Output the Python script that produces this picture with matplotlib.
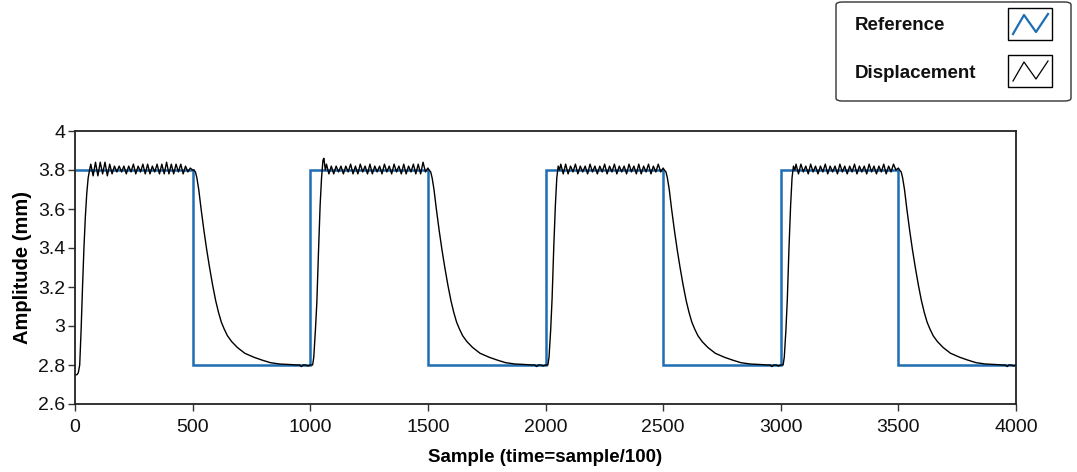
import numpy as np
import matplotlib
matplotlib.use("Agg")
import matplotlib.pyplot as plt
from matplotlib.patches import FancyBboxPatch, Rectangle
from matplotlib.lines import Line2D

plt.rcParams['font.family'] = ['Liberation Sans', 'DejaVu Sans']

# ---------------- data ----------------
ref_edges = [0, 500, 1000, 1500, 2000, 2500, 3000, 3500, 4000]
ref_levels = [3.8, 2.8, 3.8, 2.8, 3.8, 2.8, 3.8, 2.8]

# cycle 1 (0-1000)
c1_rise_x = [0, 8, 14, 20, 26, 32, 38, 44, 50, 56, 62]
c1_rise_y = [2.75, 2.75, 2.76, 2.80, 2.98, 3.20, 3.40, 3.56, 3.68, 3.76, 3.80]
c1_ripple = [3.83, 3.77, 3.84, 3.77, 3.84, 3.78, 3.84, 3.77, 3.83, 3.78, 3.82,
             3.79, 3.82, 3.79, 3.82, 3.78, 3.82, 3.79, 3.83, 3.78, 3.82, 3.79,
             3.83, 3.78, 3.83, 3.78, 3.82, 3.79, 3.83, 3.78, 3.83, 3.78, 3.84,
             3.78, 3.83, 3.78, 3.83, 3.79, 3.83, 3.78, 3.82, 3.79, 3.81, 3.80]
# cycle 2 (1000-2000)
c2_rise_x = [1000, 1010, 1015, 1022, 1028, 1035, 1042, 1048, 1054, 1058, 1064]
c2_rise_y = [2.80, 2.80, 2.84, 2.98, 3.12, 3.38, 3.62, 3.76, 3.85, 3.86, 3.80]
c2_ripple = [3.83, 3.78, 3.82, 3.78, 3.82, 3.79, 3.82, 3.78, 3.82, 3.79, 3.83,
             3.78, 3.82, 3.78, 3.83, 3.79, 3.82, 3.78, 3.83, 3.78, 3.82, 3.79,
             3.82, 3.78, 3.83, 3.79, 3.82, 3.78, 3.83, 3.79, 3.82, 3.78, 3.83,
             3.78, 3.82, 3.79, 3.83, 3.78, 3.83, 3.78, 3.84, 3.79, 3.81]
# cycle 3 (2000-3000)
c3_rise_x = [2000, 2010, 2015, 2022, 2028, 2035, 2042, 2048, 2054, 2060]
c3_rise_y = [2.80, 2.80, 2.84, 2.98, 3.14, 3.40, 3.62, 3.76, 3.82, 3.80]
c3_ripple = [3.83, 3.78, 3.83, 3.78, 3.82, 3.79, 3.83, 3.78, 3.82, 3.79, 3.82,
             3.78, 3.83, 3.79, 3.82, 3.78, 3.82, 3.79, 3.83, 3.78, 3.82, 3.79,
             3.83, 3.78, 3.82, 3.79, 3.82, 3.78, 3.83, 3.79, 3.82, 3.78, 3.83,
             3.78, 3.82, 3.79, 3.83, 3.78, 3.82, 3.79, 3.83, 3.79, 3.81]
# cycle 4 (3000-4000)
c4_rise_x = [3000, 3010, 3015, 3022, 3028, 3035, 3042, 3048, 3054, 3060]
c4_rise_y = [2.80, 2.80, 2.84, 2.98, 3.14, 3.40, 3.62, 3.76, 3.82, 3.80]
c4_ripple = [3.83, 3.78, 3.83, 3.79, 3.82, 3.78, 3.83, 3.79, 3.82, 3.78, 3.82,
             3.79, 3.83, 3.78, 3.82, 3.79, 3.82, 3.78, 3.83, 3.79, 3.82, 3.78,
             3.82, 3.79, 3.83, 3.78, 3.82, 3.79, 3.82, 3.78, 3.83, 3.79, 3.82,
             3.78, 3.82, 3.79, 3.83, 3.78, 3.82, 3.79, 3.83, 3.80, 3.81]

# decay after each falling edge (offset from the falling edge)
decay_dx = [5, 12, 18, 26, 36, 48, 60, 72, 85, 98, 110, 122, 134, 148, 166,
            190, 222, 260, 293, 330, 370, 420]
decay_y = [3.80, 3.79, 3.76, 3.70, 3.60, 3.49, 3.39, 3.30, 3.21, 3.13,
           3.07, 3.02, 2.985, 2.95, 2.92, 2.89, 2.86, 2.84, 2.826, 2.812,
           2.805, 2.802]
# low floor (offset from the falling edge) with small dips
floor_dx = [440, 455, 462, 470, 480, 490, 500]
floor_y = [2.800, 2.800, 2.792, 2.800, 2.800, 2.795, 2.800]

rise_x = [c1_rise_x, c2_rise_x, c3_rise_x, c4_rise_x]
rise_y = [c1_rise_y, c2_rise_y, c3_rise_y, c4_rise_y]
ripples = [c1_ripple, c2_ripple, c3_ripple, c4_ripple]
fall_edges = [500, 1500, 2500, 3500]

disp_x, disp_y = [], []
for rx, ry, rp, fe in zip(rise_x, rise_y, ripples, fall_edges):
    disp_x += rx
    disp_y += ry
    xs = np.linspace(rx[-1] + 5, fe, len(rp))
    disp_x += list(xs)
    disp_y += rp
    disp_x += [fe + d for d in decay_dx]
    disp_y += decay_y
    disp_x += [fe + d for d in floor_dx]
    disp_y += floor_y

# ---------------- figure ----------------
W, H = 1077, 472
fig = plt.figure(figsize=(W / 100, H / 100), dpi=100)
ax = fig.add_axes([75 / W, 1 - 404 / H, (1016 - 75) / W, (404 - 131) / H])

blue = '#1f6db3'
ax.stairs(ref_levels, ref_edges, color=blue, lw=1.8, baseline=None)
ax.plot(disp_x, disp_y, color='black', lw=1.0)

ax.set_xlim(0, 4000)
ax.set_ylim(2.6, 4.0)
ax.set_xticks([0, 500, 1000, 1500, 2000, 2500, 3000, 3500, 4000])
ax.set_yticks([2.6, 2.8, 3.0, 3.2, 3.4, 3.6, 3.8, 4.0])
ax.set_yticklabels(['2.6', '2.8', '3', '3.2', '3.4', '3.6', '3.8', '4'])
ax.tick_params(axis='both', labelsize=14, direction='out', length=5,
               width=1, color='#333333', labelcolor='#111111')
ax.tick_params(axis='x', pad=6)
ax.tick_params(axis='y', pad=2)
for s in ax.spines.values():
    s.set_linewidth(1.3)
    s.set_color('#222222')

ax.set_xlabel('Sample (time=sample/100)', fontsize=13.5, fontweight='bold',
              labelpad=9)
ax.set_ylabel('Amplitude (mm)', fontsize=14.5, fontweight='bold', labelpad=4)

# ---------------- legend (custom, upper right) ----------------
def fx(px):
    return px / W

def fy(py):
    return 1 - py / H

box = FancyBboxPatch((fx(836), fy(101)), fx(1071) - fx(836), fy(2) - fy(101),
                     boxstyle='round,pad=0,rounding_size=0.006',
                     transform=fig.transFigure, facecolor='white',
                     edgecolor='#333333', lw=1.0)
fig.patches.append(box)

entries = [('Reference', blue, 24, 1.6), ('Displacement', 'black', 71, 0.9)]
for label, col, yc, lw in entries:
    fig.text(fx(855), fy(yc + 2), label, fontsize=13.5, fontweight='bold',
             va='center', ha='left', color='#111111')
    fig.patches.append(Rectangle((fx(1008), fy(yc + 16)), fx(1052) - fx(1008),
                                 fy(yc - 16) - fy(yc + 16),
                                 transform=fig.transFigure, facecolor='white',
                                 edgecolor='black', lw=1.0))
    zx = [1013, 1024, 1036, 1048]
    zy = [yc + 10, yc - 9, yc + 8, yc - 10]
    fig.lines.append(Line2D([fx(v) for v in zx], [fy(v) for v in zy],
                            transform=fig.transFigure, color=col, lw=lw))

fig.savefig('out.png', dpi=100)
